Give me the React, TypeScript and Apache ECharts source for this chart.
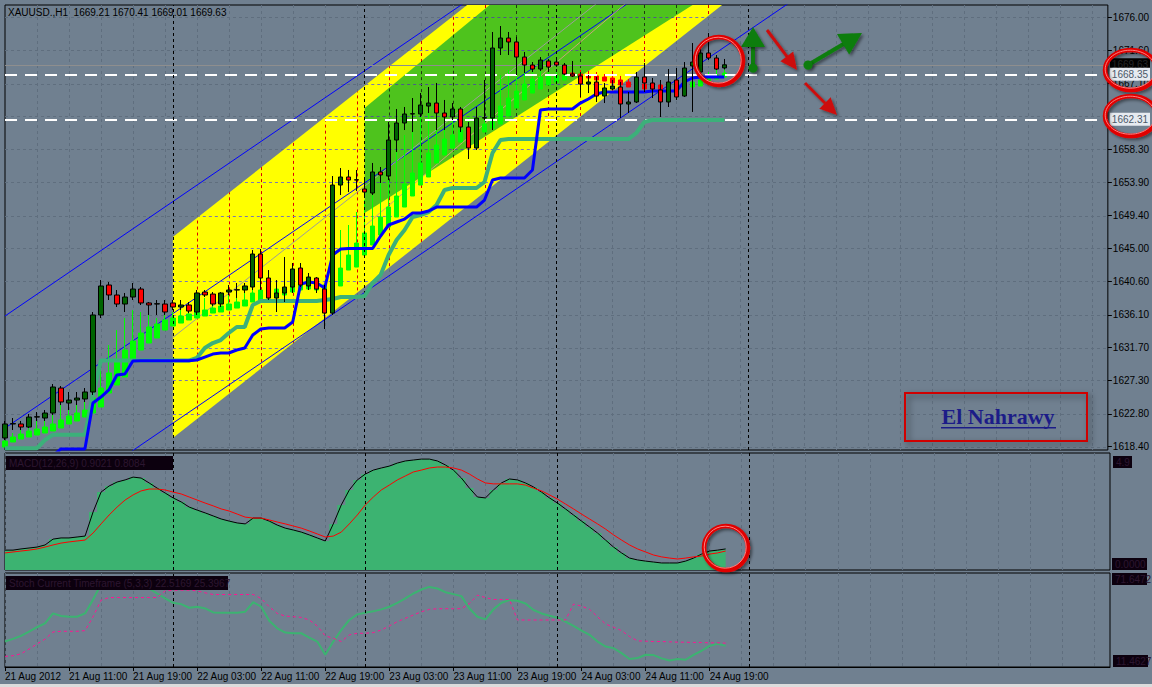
import React, { useEffect, useRef } from 'react';
import * as echarts from 'echarts';

type Pt = [number, number];

const BG = '#708090';
const GRID_DASH = '#5f6e7e';
const FONT = 'Liberation Sans';

// ---- time axis: hourly slots starting 21 Aug 2012 03:00 ----
const SLOT_COUNT = 139;
const categories: string[] = [];
for (let k = 0; k < SLOT_COUNT; k++) {
  const h = 3 + k;
  const day = 21 + Math.floor(h / 24);
  categories.push(`${day} Aug ${String(h % 24).padStart(2, '0')}:00`);
}
const FIRST_LABEL = '21 Aug 2012';
const LAST_BAR = 90;
const daySeparators = [21, 45, 69, 93];
const verticalGrid: number[] = [];
for (let k = 4; k < SLOT_COUNT; k += 4) verticalGrid.push(k);

// ---- price scale ----
const priceMin = 1617.96;
const priceMax = 1677.65;
const priceTicks = [1618.4, 1622.8, 1627.3, 1631.7, 1636.1, 1640.6, 1645.0, 1649.4, 1653.9, 1658.3, 1662.7, 1667.1, 1671.6, 1676.0];
const priceLabels = [1618.4, 1622.8, 1627.3, 1631.7, 1636.1, 1640.6, 1645.0, 1649.4, 1653.9, 1658.3, 1667.1, 1671.6, 1676.0];

// ---- XAUUSD H1 candles: [open, close, low, high] ----
const priceBars = [
  // 21 Aug
  [1619.57, 1621.45, 1619.30, 1621.85], [1621.45, 1621.50, 1620.64, 1622.25], [1621.45, 1621.04, 1620.64, 1621.85],
  [1621.04, 1622.38, 1620.91, 1622.79], [1622.38, 1622.42, 1621.85, 1623.05], [1622.25, 1622.92, 1621.85, 1623.32],
  [1622.92, 1626.41, 1622.65, 1626.81], [1626.27, 1624.40, 1623.99, 1626.54], [1624.26, 1624.66, 1623.32, 1625.74],
  [1624.66, 1624.93, 1623.99, 1625.74], [1624.80, 1625.74, 1624.40, 1626.27], [1625.74, 1636.07, 1625.34, 1636.47],
  [1636.07, 1639.96, 1635.66, 1640.76], [1640.09, 1638.75, 1638.08, 1640.49], [1638.75, 1637.54, 1637.14, 1639.42],
  [1637.54, 1638.48, 1636.47, 1639.02], [1638.48, 1639.55, 1638.08, 1640.36], [1639.55, 1637.68, 1637.41, 1639.82],
  [1637.68, 1637.41, 1636.07, 1637.81], [1637.54, 1637.58, 1636.07, 1638.08], [1637.54, 1636.47, 1636.07, 1638.08],
  // 22 Aug
  [1637.68, 1637.14, 1636.74, 1638.08], [1637.14, 1637.41, 1636.74, 1638.08], [1637.41, 1636.60, 1636.33, 1637.81],
  [1636.47, 1639.02, 1636.07, 1639.42], [1639.15, 1638.75, 1638.48, 1639.42], [1638.88, 1637.54, 1637.27, 1639.15],
  [1637.54, 1639.02, 1637.14, 1639.15], [1639.15, 1639.42, 1638.75, 1640.09], [1639.42, 1639.46, 1638.35, 1640.36],
  [1639.42, 1639.96, 1639.02, 1640.36], [1639.82, 1644.25, 1639.42, 1644.78], [1644.25, 1641.03, 1639.42, 1644.92],
  [1641.03, 1638.35, 1638.08, 1642.10], [1638.35, 1639.02, 1636.47, 1640.76], [1639.02, 1639.82, 1637.81, 1643.85],
  [1639.82, 1642.24, 1639.02, 1643.04], [1642.37, 1640.09, 1639.82, 1643.04], [1639.96, 1641.16, 1639.42, 1641.70],
  [1641.03, 1639.55, 1639.02, 1641.16], [1639.55, 1636.33, 1634.19, 1640.09], [1636.33, 1653.50, 1636.07, 1654.71],
  [1653.50, 1654.58, 1652.16, 1655.78], [1654.58, 1654.17, 1652.56, 1655.52], [1654.17, 1654.21, 1652.70, 1655.52],
  // 23 Aug
  [1652.97, 1652.56, 1652.16, 1654.17], [1652.43, 1655.25, 1652.16, 1656.46], [1655.25, 1654.85, 1653.77, 1655.92],
  [1654.71, 1659.54, 1654.17, 1661.96], [1659.54, 1661.82, 1657.93, 1663.70], [1661.82, 1663.03, 1660.88, 1663.97],
  [1663.03, 1663.07, 1660.61, 1665.17], [1663.03, 1664.24, 1662.63, 1665.84], [1664.10, 1664.50, 1663.16, 1666.65],
  [1664.50, 1663.16, 1660.88, 1667.19], [1663.16, 1662.63, 1660.88, 1664.91], [1662.63, 1663.70, 1662.22, 1664.50],
  [1663.70, 1661.28, 1660.61, 1663.97], [1661.28, 1658.47, 1656.99, 1661.96], [1658.47, 1662.49, 1658.20, 1663.97],
  [1662.49, 1662.53, 1662.22, 1667.59], [1662.49, 1671.88, 1660.88, 1674.03], [1671.88, 1673.22, 1670.94, 1674.83],
  [1673.22, 1672.69, 1670.94, 1674.03], [1672.69, 1670.67, 1668.26, 1673.36], [1670.67, 1669.60, 1668.53, 1671.35],
  [1669.60, 1669.06, 1668.66, 1670.00], [1669.06, 1670.27, 1668.80, 1670.67], [1670.14, 1669.33, 1668.66, 1670.41],
  // 24 Aug
  [1670.00, 1669.60, 1669.33, 1670.41], [1669.60, 1668.39, 1668.26, 1669.87], [1668.39, 1668.13, 1668.00, 1670.14],
  [1668.13, 1667.05, 1665.31, 1668.66], [1667.05, 1667.32, 1665.84, 1668.26], [1667.32, 1665.44, 1664.64, 1667.99],
  [1665.44, 1666.52, 1664.50, 1667.19], [1666.38, 1666.78, 1666.25, 1667.59], [1666.65, 1664.37, 1662.49, 1667.32],
  [1664.37, 1664.64, 1663.16, 1665.98], [1664.64, 1667.99, 1664.50, 1668.66], [1667.99, 1667.19, 1665.98, 1669.87],
  [1667.19, 1666.38, 1665.17, 1667.86], [1666.25, 1664.64, 1662.63, 1667.59], [1664.64, 1667.32, 1663.97, 1669.06],
  [1667.59, 1665.31, 1664.91, 1669.20], [1665.44, 1669.20, 1665.31, 1670.00], [1669.47, 1670.00, 1663.30, 1672.55],
  [1668.66, 1671.21, 1668.66, 1672.55], [1671.21, 1670.54, 1670.27, 1673.89], [1670.54, 1669.06, 1668.93, 1670.94],
  [1669.21, 1669.63, 1669.01, 1670.41],
];

// ---- smoothed trend bars (lime up / red down): [open, close, low, high] ----
const trendBars = [
  [1618.36, 1619.16, 1618.36, 1619.57], [1619.03, 1619.70, 1619.03, 1620.24], [1619.43, 1620.10, 1619.43, 1620.91],
  [1619.70, 1620.51, 1619.70, 1621.45], [1619.97, 1620.77, 1619.97, 1621.98], [1620.24, 1621.04, 1620.24, 1622.25],
  [1620.51, 1621.45, 1620.51, 1623.05], [1620.91, 1621.98, 1620.91, 1623.99], [1621.45, 1622.52, 1621.45, 1624.66],
  [1621.85, 1622.92, 1621.85, 1624.93], [1622.38, 1623.32, 1622.38, 1625.34], [1622.92, 1624.93, 1622.92, 1627.35],
  [1623.73, 1626.27, 1623.73, 1630.03], [1625.60, 1628.29, 1625.60, 1632.04], [1626.68, 1629.76, 1626.68, 1634.05],
  [1627.75, 1631.37, 1627.75, 1635.66], [1630.16, 1632.58, 1630.16, 1636.74], [1631.37, 1633.65, 1631.37, 1636.47],
  [1632.31, 1634.46, 1632.31, 1636.07], [1632.98, 1634.86, 1632.98, 1635.66], [1634.05, 1635.40, 1634.05, 1636.07],
  [1634.59, 1635.66, 1634.59, 1636.47], [1634.99, 1635.93, 1634.99, 1636.74], [1635.40, 1636.20, 1635.40, 1637.00],
  [1635.66, 1636.47, 1635.66, 1638.08], [1635.93, 1636.74, 1635.93, 1638.35], [1636.33, 1637.00, 1636.33, 1638.35],
  [1636.47, 1637.27, 1636.47, 1638.61], [1636.74, 1637.54, 1636.74, 1639.15], [1637.00, 1637.81, 1637.00, 1639.15],
  [1637.27, 1638.08, 1637.27, 1639.42], [1637.81, 1639.02, 1637.81, 1641.43], [1638.08, 1639.42, 1638.08, 1642.10],
  [1638.35, 1639.42, 1638.35, 1640.49], [1638.48, 1639.55, 1638.48, 1640.09], [1638.75, 1639.69, 1638.75, 1640.76],
  [1639.15, 1639.96, 1639.15, 1641.43], [1639.42, 1640.22, 1639.42, 1641.43], [1639.55, 1640.36, 1639.55, 1640.76],
  [1639.42, 1640.22, 1639.42, 1640.49], [1639.15, 1640.09, 1639.15, 1640.22], [1639.42, 1641.03, 1639.42, 1646.13],
  [1639.96, 1642.37, 1639.96, 1647.47], [1642.10, 1644.11, 1642.10, 1648.14], [1642.50, 1645.72, 1642.50, 1649.88],
  [1644.11, 1647.07, 1644.11, 1651.49], [1645.46, 1648.00, 1645.46, 1653.50], [1646.80, 1649.21, 1646.80, 1654.85],
  [1647.87, 1650.55, 1647.87, 1656.86], [1649.21, 1652.03, 1649.21, 1658.47], [1650.55, 1653.64, 1650.55, 1660.21],
  [1652.03, 1655.11, 1652.03, 1661.55], [1653.50, 1656.46, 1653.50, 1662.89], [1654.58, 1657.80, 1654.58, 1663.83],
  [1656.46, 1658.87, 1656.46, 1664.24], [1657.53, 1659.67, 1657.53, 1663.56], [1658.47, 1660.21, 1658.47, 1663.30],
  [1659.27, 1660.88, 1659.27, 1663.56], [1659.54, 1660.75, 1659.54, 1662.49], [1660.35, 1661.42, 1660.35, 1663.30],
  [1660.61, 1661.69, 1660.61, 1664.24], [1661.15, 1663.30, 1661.15, 1667.59], [1661.69, 1664.10, 1661.69, 1668.26],
  [1662.76, 1665.17, 1662.76, 1668.93], [1663.83, 1666.11, 1663.83, 1669.20], [1664.91, 1667.05, 1664.91, 1669.60],
  [1665.84, 1667.72, 1665.84, 1669.60], [1666.38, 1667.99, 1666.38, 1669.47], [1666.92, 1668.13, 1666.92, 1669.20],
  [1667.32, 1668.13, 1667.32, 1668.93], [1667.59, 1668.26, 1667.59, 1668.66], [1668.53, 1668.13, 1668.13, 1668.93],
  [1668.39, 1667.99, 1667.99, 1668.93], [1668.26, 1667.86, 1667.86, 1668.80], [1668.13, 1667.59, 1667.59, 1668.66],
  [1667.99, 1667.45, 1667.45, 1668.39], [1667.86, 1667.19, 1667.19, 1668.26], [1667.59, 1666.92, 1666.92, 1668.13],
  [1667.32, 1666.65, 1666.65, 1667.72], [1667.19, 1666.52, 1666.52, 1667.32], [1667.05, 1666.38, 1666.38, 1667.32],
  [1666.92, 1666.38, 1666.38, 1667.19], [1666.92, 1666.25, 1666.25, 1667.05], [1666.38, 1667.05, 1666.38, 1667.32],
  [1666.52, 1667.05, 1666.52, 1667.32], [1666.52, 1667.19, 1666.52, 1667.59], [1666.65, 1667.32, 1666.65, 1667.86],
  [1666.78, 1667.59, 1666.78, 1668.13], [1667.19, 1667.86, 1667.19, 1668.66], [1667.72, 1668.26, 1667.72, 1668.93],
  [1667.99, 1668.53, 1667.99, 1669.20],
];

// ---- stepped trailing lines ----
const blueTrail = [
  1617.2, 1617.2, 1617.2, 1617.2, 1617.2, 1617.2, 1617.2, 1618.1, 1618.1, 1618.1, 1618.1,
  1624.26, 1625.06, 1626.01, 1628.02, 1628.15, 1629.89,
  1629.93, 1629.93, 1629.93, 1629.93, 1629.93, 1629.93, 1629.93,
  1630.03, 1630.43, 1630.83, 1630.97, 1630.97, 1631.37, 1631.64, 1633.38, 1634.19,
  1634.32, 1634.32, 1634.32,
  1635.13, 1640.22, 1640.49, 1640.36, 1639.69, 1644.11, 1644.92,
  1644.99, 1644.99, 1644.99, 1644.99,
  1646.66, 1648.14, 1648.54, 1648.94, 1649.75, 1649.75, 1650.02, 1650.55,
  1650.55, 1650.55, 1650.55, 1650.55, 1650.55,
  1651.49, 1654.17, 1654.44, 1654.44, 1654.44, 1654.44, 1655.52, 1663.56,
  1663.70, 1663.70, 1663.70, 1663.70,
  1664.50, 1665.04, 1665.71, 1665.98, 1665.98, 1665.98, 1665.98, 1665.98, 1665.98,
  1666.11, 1666.11, 1666.11, 1666.11, 1667.32, 1667.86, 1667.99, 1667.99, 1667.99, 1667.99,
];
const tealTrail = [
  1618.2, 1618.2, 1618.2, 1618.2, 1618.2, 1619.3, 1620.0, 1620.0, 1620.0, 1620.0, 1620.0, 1625.34,
  1629.96, 1629.96, 1629.96, 1629.96, 1629.96, 1629.96, 1629.96, 1629.96, 1629.96, 1629.96, 1629.96, 1629.96,
  1630.30, 1631.64, 1632.31, 1632.71, 1633.65, 1634.46, 1634.46, 1637.41,
  1637.94, 1637.94, 1637.94, 1637.94, 1637.94, 1637.94, 1637.94, 1637.94,
  1638.08, 1638.21, 1638.48, 1638.48, 1638.48,
  1638.61, 1640.36, 1641.43, 1644.11, 1646.13, 1647.47, 1649.21, 1649.48, 1649.88, 1650.82, 1652.83,
  1653.10, 1653.10, 1653.10, 1653.10, 1653.91, 1657.80, 1659.54,
  1659.67, 1659.67, 1659.67, 1659.67, 1659.67, 1659.67, 1659.67, 1659.67,
  1659.67, 1659.67, 1659.67, 1659.67, 1659.67, 1659.67, 1659.67, 1659.67,
  1660.48, 1661.96,
  1662.22, 1662.22, 1662.22, 1662.22, 1662.22, 1662.22, 1662.22, 1662.22, 1662.22, 1662.22,
];

// ---- drawn objects: [bar index, price] anchors ----
const yellowUpper = [[21, 1646.53], [110, 1721.74]];
const yellowLower = [[21, 1619.57], [110, 1694.78]];
const greenUpper = [[45, 1663.83], [110, 1721.29]];
const greenLower = [[45, 1649.74], [110, 1693.94]];
const channelUpper = [[0, 1635.93], [138, 1736.81]];
const channelMiddle = [[0, 1620.9], [138, 1721.78]];
const channelLower = [[0, 1606.2], [138, 1707.08]];
const regressionMid = [[21, 1633.05], [110, 1708.26]];
const innerLine = [[45, 1648.0], [80, 1680.0]];

const bidPrice = 1669.63;
const levelHigh = 1668.35;
const levelLow = 1662.31;

// ---- oscillator panel ----
const macdMain = [
  0.85, 0.85, 0.9, 0.94, 0.98, 1.07, 1.32, 1.37, 1.37, 1.41,
  1.45, 2.48, 3.33, 3.59, 3.76, 3.85, 3.97, 3.93, 3.72, 3.5,
  3.29, 3.08, 2.91, 2.69, 2.56, 2.44, 2.31, 2.18, 2.09, 2.01,
  1.97, 2.22, 2.22, 2.09, 1.92, 1.79, 1.71, 1.62, 1.5, 1.37,
  1.24, 1.97, 2.78, 3.42, 3.85, 4.1, 4.27, 4.36, 4.44, 4.57,
  4.66, 4.7, 4.74, 4.74, 4.66, 4.49, 4.27, 3.93, 3.5, 3.12,
  3.08, 3.42, 3.72, 3.89, 3.85, 3.72, 3.55, 3.33, 3.08, 2.86,
  2.61, 2.35, 2.09, 1.84, 1.58, 1.28, 0.98, 0.73, 0.51, 0.43,
  0.38, 0.34, 0.3, 0.3, 0.3, 0.38, 0.51, 0.68, 0.81, 0.85,
  0.9,
];
const macdSignal = [
  0.73, 0.77, 0.81, 0.85, 0.9, 0.98, 1.07, 1.15, 1.2, 1.24,
  1.28, 1.58, 1.97, 2.35, 2.69, 2.99, 3.21, 3.38, 3.46, 3.46,
  3.42, 3.33, 3.25, 3.12, 2.99, 2.86, 2.74, 2.61, 2.52, 2.39,
  2.26, 2.22, 2.22, 2.14, 2.05, 1.97, 1.88, 1.79, 1.67, 1.54,
  1.41, 1.45, 1.62, 1.97, 2.35, 2.78, 3.12, 3.42, 3.63, 3.85,
  4.02, 4.19, 4.27, 4.36, 4.4, 4.4, 4.36, 4.27, 4.1, 3.89,
  3.72, 3.68, 3.68, 3.68, 3.68, 3.63, 3.5, 3.38, 3.21, 3.03,
  2.82, 2.61, 2.39, 2.18, 1.97, 1.75, 1.5, 1.28, 1.07, 0.9,
  0.77, 0.64, 0.56, 0.51, 0.47, 0.51, 0.56, 0.6, 0.68, 0.73,
  0.81,
];

// ---- stochastic panel ----
const stochMain = [
  27.1, 29.9, 33.1, 37.7, 42.3, 46.5, 57.0, 54.2, 53.5, 53.5,
  57.0, 71.8, 88.0, 93.0, 94.0, 94.0, 93.3, 88.0, 83.5, 78.2,
  72.9, 68.3, 66.9, 63.0, 64.1, 62.3, 58.1, 57.7, 57.7, 57.7,
  58.8, 69.0, 64.1, 49.3, 41.2, 36.6, 35.9, 35.9, 31.3, 27.1,
  13.0, 27.1, 39.4, 50.0, 56.0, 57.7, 59.2, 61.3, 64.1, 68.3,
  72.9, 78.2, 82.4, 85.2, 83.5, 79.6, 77.5, 75.4, 62.3, 53.5,
  50.7, 61.3, 68.3, 71.1, 70.4, 67.6, 60.6, 57.0, 54.6, 52.5,
  48.2, 43.7, 38.7, 34.2, 27.1, 21.8, 20.1, 14.8, 8.5, 9.5,
  13.0, 12.7, 9.2, 7.0, 8.5, 7.7, 13.0, 17.3, 22.5, 24.6,
  22.5,
];
const stochSignal = [
  11.3, 12.0, 14.1, 19.0, 24.6, 29.6, 37.3, 38.0, 38.0, 38.0,
  38.7, 53.5, 71.1, 73.9, 73.9, 73.9, 73.9, 73.9, 73.9, 73.9,
  81.0, 81.7, 81.7, 81.7, 81.0, 78.9, 77.1, 77.1, 77.1, 77.1,
  77.1, 77.1, 72.9, 64.1, 57.0, 54.2, 53.5, 52.8, 50.0, 43.7,
  33.1, 30.6, 27.1, 34.2, 35.9, 35.9, 36.6, 39.4, 43.7, 48.2,
  51.8, 55.3, 58.8, 61.3, 62.0, 62.0, 62.0, 62.0, 67.6, 76.4,
  73.9, 71.8, 71.8, 71.8, 50.0, 50.0, 50.0, 50.0, 50.0, 50.0,
  50.0, 66.9, 64.8, 61.3, 53.5, 45.8, 42.3, 38.7, 32.4, 27.8,
  27.5, 27.1, 27.1, 26.8, 26.4, 26.4, 26.1, 26.1, 25.7, 25.7,
  25.4,
];

const titleText = 'XAUUSD.,H1  1669.21 1670.41 1669.01 1669.63';
const macdTitle = 'MACD(12,26,9) 0.9021 0.8084';
const stochTitle = 'Stoch Current Timeframe (5,3,3) 22.5169 25.3967';
const signature = 'El Nahrawy';

// ---- geometry helpers ----
function clipPolygon(poly: Pt[], x0: number, y0: number, x1: number, y1: number): Pt[] {
  const planes: [(p: Pt) => boolean, (a: Pt, b: Pt) => Pt][] = [
    [(p) => p[0] >= x0, (a, b) => [x0, a[1] + ((x0 - a[0]) / (b[0] - a[0])) * (b[1] - a[1])]],
    [(p) => p[0] <= x1, (a, b) => [x1, a[1] + ((x1 - a[0]) / (b[0] - a[0])) * (b[1] - a[1])]],
    [(p) => p[1] >= y0, (a, b) => [a[0] + ((y0 - a[1]) / (b[1] - a[1])) * (b[0] - a[0]), y0]],
    [(p) => p[1] <= y1, (a, b) => [a[0] + ((y1 - a[1]) / (b[1] - a[1])) * (b[0] - a[0]), y1]],
  ];
  let out = poly;
  for (const [inside, cut] of planes) {
    const input = out;
    out = [];
    if (!input.length) break;
    for (let i = 0; i < input.length; i++) {
      const cur = input[i];
      const prev = input[(i + input.length - 1) % input.length];
      const cin = inside(cur);
      const pin = inside(prev);
      if (cin) {
        if (!pin) out.push(cut(prev, cur));
        out.push(cur);
      } else if (pin) out.push(cut(prev, cur));
    }
  }
  return out;
}

function spanAt(poly: Pt[], axis: 0 | 1, c: number): [number, number] | null {
  const o = 1 - axis;
  const hits: number[] = [];
  for (let i = 0; i < poly.length; i++) {
    const a = poly[i];
    const b = poly[(i + 1) % poly.length];
    if ((a[axis] - c) * (b[axis] - c) <= 0) {
      if (a[axis] === b[axis]) hits.push(a[o], b[o]);
      else hits.push(a[o] + ((c - a[axis]) / (b[axis] - a[axis])) * (b[o] - a[o]));
    }
  }
  if (hits.length < 2) return null;
  const lo = Math.min(...hits);
  const hi = Math.max(...hits);
  return hi - lo > 0.5 ? [lo, hi] : null;
}

function renderChannels(params: any, api: any) {
  const cs = params.coordSys;
  const x0 = cs.x, y0 = cs.y, x1 = cs.x + cs.width, y1 = cs.y + cs.height;
  const px = (p: number[]): Pt => api.coord(p) as Pt;
  const kids: any[] = [];
  const seg = (a: number, b: number, c: number, d: number, color: string, offset: number) => ({
    type: 'line',
    shape: { x1: a, y1: b, x2: c, y2: d },
    style: { stroke: color, lineWidth: 1, lineDash: [3, 3], lineDashOffset: offset },
  });
  const vx = verticalGrid.map((k) => Math.round(api.coord([k, priceMin])[0]) + 0.5);
  const hy = priceTicks.map((t) => Math.round(api.coord([0, t])[1]) + 0.5);
  vx.forEach((x) => kids.push(seg(x, y0, x, y1, GRID_DASH, 0)));
  hy.forEach((y) => kids.push(seg(x0, y, x1, y, GRID_DASH, 0)));
  const band = (upper: number[][], lower: number[][], fill: string, vCol: string, hCol: string) => {
    const poly = clipPolygon([px(upper[0]), px(upper[1]), px(lower[1]), px(lower[0])], x0, y0, x1, y1);
    if (poly.length < 3) return;
    kids.push({ type: 'polygon', shape: { points: poly }, style: { fill } });
    vx.forEach((x) => {
      const s = spanAt(poly, 0, x);
      if (s) kids.push(seg(x, s[0], x, s[1], vCol, (s[0] - y0) % 6));
    });
    hy.forEach((y) => {
      const s = spanAt(poly, 1, y);
      if (s) kids.push(seg(s[0], y, s[1], y, hCol, (s[0] - x0) % 6));
    });
  };
  band(yellowUpper, yellowLower, '#ffff00', '#dd0000', '#7a78b4');
  band(greenUpper, greenLower, '#4ec31d', '#1e3a10', '#4d5a8c');
  return { type: 'group', children: kids };
}

const shadow = { shadowBlur: 3, shadowColor: 'rgba(0,0,0,0.45)', shadowOffsetX: 2, shadowOffsetY: 2 };

// annotation arrow: thick shaft drawn as a quad, triangular head, optional tail dot
function arrow(x1: number, y1: number, x2: number, y2: number, color: string, w: number, hl: number, hw: number, dot: number) {
  const dx = x2 - x1, dy = y2 - y1;
  const len = Math.hypot(dx, dy);
  const ux = dx / len, uy = dy / len;
  const bx = x2 - ux * hl, by = y2 - uy * hl;
  const nx = -uy, ny = ux;
  const hwS = w / 2;
  const els: any[] = [
    {
      type: 'polygon', z: 100,
      shape: {
        points: [
          [x1 + nx * hwS, y1 + ny * hwS], [bx + ux + nx * hwS, by + uy + ny * hwS],
          [bx + ux - nx * hwS, by + uy - ny * hwS], [x1 - nx * hwS, y1 - ny * hwS],
        ],
      },
      style: { fill: color, ...shadow },
    },
    {
      type: 'polygon', z: 100,
      shape: { points: [[x2, y2], [bx + nx * hw, by + ny * hw], [bx - nx * hw, by - ny * hw]] },
      style: { fill: color, ...shadow },
    },
  ];
  if (dot) els.push({ type: 'circle', z: 100, shape: { cx: x1, cy: y1, r: dot }, style: { fill: color, ...shadow } });
  return els;
}

function ring(cx: number, cy: number, rx: number, ry: number) {
  return [
    { type: 'ellipse', z: 101, shape: { cx, cy, rx, ry }, style: { fill: 'none', stroke: '#e00000', lineWidth: 4.5, ...shadow } },
    { type: 'ellipse', z: 102, shape: { cx: cx - 0.8, cy: cy - 0.8, rx: rx - 1, ry: ry - 1 }, style: { fill: 'none', stroke: '#ff8080', lineWidth: 1 } },
  ];
}

function darkBox(x: number, y: number, w: number, h: number, text: string) {
  return [
    { type: 'rect', z: 90, shape: { x, y, width: w, height: h }, style: { fill: '#0c000e' } },
    {
      type: 'text', z: 91, x: x + 3, y: y + h / 2,
      style: { text, fill: '#2c1630', font: `10px ${FONT}`, verticalAlign: 'middle' },
    },
  ];
}

function buildOption() {
  const xAxes = [0, 1, 2].map((g) => ({
    type: 'category',
    gridIndex: g,
    data: categories,
    boundaryGap: false,
    axisLine: { show: g === 2, lineStyle: { color: '#000' } },
    axisTick: {
      show: g === 2,
      length: 4,
      interval: (i: number) => i % 8 === 0 && i <= LAST_BAR,
      lineStyle: { color: '#000' },
    },
    axisLabel: {
      show: g === 2,
      interval: (i: number) => i % 8 === 0 && i <= LAST_BAR,
      formatter: (v: string, i: number) => (i === 0 ? FIRST_LABEL : v),
      align: 'left',
      margin: 4,
      color: '#000',
      fontSize: 10,
      fontFamily: FONT,
    },
    splitLine: { show: g !== 0, interval: 3, lineStyle: { color: GRID_DASH, type: [3, 3], width: 1 } },
  }));

  const separator = (g: number) => ({
    type: 'line', xAxisIndex: g, yAxisIndex: g, data: [], z: 6,
    markLine: {
      silent: true, symbol: 'none', animation: false,
      label: { show: false },
      lineStyle: { color: '#000', type: [3, 3], width: 1 },
      data: daySeparators.map((i) => ({ xAxis: categories[i] })),
    },
  });

  const thin = (name: string, data: number[][], color: string) => ({
    name, type: 'line', xAxisIndex: 0, yAxisIndex: 0, data, z: 2,
    showSymbol: false, silent: true, lineStyle: { color, width: 1 },
  });

  const levelLabel = (bg: string, fg: string) => ({
    show: true, position: 'end', distance: 2, backgroundColor: bg, color: fg,
    fontSize: 10, fontFamily: FONT, padding: [2, 2, 1, 2],
  });

  return {
    animation: false,
    backgroundColor: BG,
    textStyle: { fontFamily: FONT },
    grid: [
      { left: 5, right: 42, top: 5, height: 445, show: true, borderColor: '#000', borderWidth: 1 },
      { left: 5, right: 42, top: 453, height: 117, show: true, borderColor: '#000', borderWidth: 1 },
      { left: 5, right: 42, top: 573, height: 94, show: true, borderColor: '#000', borderWidth: 1 },
    ],
    xAxis: xAxes,
    yAxis: [
      {
        type: 'value', gridIndex: 0, position: 'right', min: priceMin, max: priceMax,
        axisLine: { show: false },
        axisTick: { show: true, length: 4, customValues: priceLabels, lineStyle: { color: '#000' } },
        axisLabel: {
          customValues: priceLabels, formatter: (v: number) => v.toFixed(2),
          color: '#000', fontSize: 10, fontFamily: FONT, margin: 5,
        },
        splitLine: { show: false },
      },
      { type: 'value', gridIndex: 1, min: 0, max: 5, show: false },
      { type: 'value', gridIndex: 2, min: 0, max: 100, show: false },
    ],
    graphic: {
      elements: [
        { type: 'rect', z: 80, shape: { x: 0, y: 684, width: 1152, height: 3 }, style: { fill: '#dcdcdc' } },
        { type: 'text', z: 90, x: 8, y: 7, style: { text: titleText, fill: '#000', font: `10px ${FONT}` } },
        ...darkBox(6, 456, 167, 14, macdTitle),
        ...darkBox(6, 576, 222, 14, stochTitle),
        ...darkBox(1113, 456, 19, 12, '4.9'),
        ...darkBox(1112, 558, 35, 12, '0.0000'),
        ...darkBox(1112, 573, 35, 12, '71.6472'),
        ...darkBox(1113, 655, 35, 12, '11.4627'),
        {
          type: 'rect', z: 95, shape: { x: 905, y: 393, width: 182, height: 48 },
          style: { fill: 'none', stroke: '#d00000', lineWidth: 2, shadowBlur: 6, shadowColor: 'rgba(0,0,0,0.5)', shadowOffsetX: 3, shadowOffsetY: 3 },
        },
        {
          type: 'text', z: 96, x: 998, y: 416,
          style: { text: signature, fill: '#1c1c88', font: `bold 22px "Liberation Serif"`, align: 'center', verticalAlign: 'middle' },
        },
        { type: 'rect', z: 96, shape: { x: 941, y: 427, width: 115, height: 1.5 }, style: { fill: '#1c1c88' } },
        ...arrow(753, 68, 753, 27, '#0b7d0b', 4, 20, 12, 4.5),
        ...arrow(808, 65, 862, 33, '#0b7d0b', 4, 22, 12, 4.5),
        ...arrow(767, 30, 797, 70, '#cc1010', 3, 17, 8, 0),
        ...arrow(805, 83, 837, 115, '#cc1010', 3, 17, 8, 0),
        ...ring(719, 61, 24, 24),
        ...ring(1131, 70, 26, 20),
        ...ring(1131, 116, 26, 20),
        ...ring(726, 548, 22, 22),
      ],
    },
    series: [
      {
        type: 'custom', name: 'channels', xAxisIndex: 0, yAxisIndex: 0, z: 1, silent: true,
        data: [[0, priceMin]], renderItem: renderChannels,
      },
      thin('channel upper', channelUpper, '#0000ff'),
      thin('channel middle', channelMiddle, '#0000ff'),
      thin('channel lower', channelLower, '#0000ff'),
      thin('regression', regressionMid, '#9c9c9c'),
      thin('inner', innerLine, '#c8a47a'),
      {
        type: 'line', name: 'levels', xAxisIndex: 0, yAxisIndex: 0, data: [], z: 3,
        markLine: {
          silent: true, symbol: 'none', animation: false,
          data: [
            { yAxis: bidPrice, lineStyle: { color: '#8e8e8e', type: 'solid', width: 1 }, label: levelLabel('#000000', '#262626') },
            { yAxis: levelHigh, lineStyle: { color: '#ffffff', type: [12, 8], width: 2 }, label: levelLabel('#e6eaf0', '#4a5868') },
            { yAxis: levelLow, lineStyle: { color: '#ffffff', type: [12, 8], width: 2 }, label: levelLabel('#e6eaf0', '#4a5868') },
          ],
        },
      },
      {
        type: 'candlestick', name: 'trend', xAxisIndex: 0, yAxisIndex: 0, data: trendBars, z: 4,
        barWidth: 5, silent: true,
        itemStyle: { color: '#00ff00', color0: '#ff0000', borderColor: '#00ff00', borderColor0: '#ff0000', borderWidth: 1 },
      },
      {
        type: 'line', name: 'teal trail', xAxisIndex: 0, yAxisIndex: 0, data: tealTrail, z: 5,
        showSymbol: false, silent: true, lineStyle: { color: '#3cb07a', width: 4 },
      },
      {
        type: 'line', name: 'blue trail', xAxisIndex: 0, yAxisIndex: 0, data: blueTrail, z: 5,
        showSymbol: false, silent: true, lineStyle: { color: '#0000ff', width: 3 },
      },
      separator(0),
      separator(1),
      separator(2),
      {
        type: 'candlestick', name: 'XAUUSD', xAxisIndex: 0, yAxisIndex: 0, data: priceBars, z: 7,
        barWidth: 5, silent: true,
        itemStyle: { color: '#006400', color0: '#ff0000', borderColor: '#000000', borderColor0: '#000000', borderWidth: 1 },
      },
      {
        type: 'line', name: 'macd hist', xAxisIndex: 1, yAxisIndex: 1, data: macdMain, step: 'middle', z: 2,
        showSymbol: false, silent: true, lineStyle: { width: 0, opacity: 0 }, areaStyle: { color: '#3cb371', opacity: 1 },
      },
      {
        type: 'line', name: 'macd', xAxisIndex: 1, yAxisIndex: 1, data: macdMain, z: 3,
        showSymbol: false, silent: true, lineStyle: { color: '#000000', width: 1 },
      },
      {
        type: 'line', name: 'signal', xAxisIndex: 1, yAxisIndex: 1, data: macdSignal, z: 3,
        showSymbol: false, silent: true, lineStyle: { color: '#ff0000', width: 1 },
      },
      {
        type: 'line', name: 'stoch main', xAxisIndex: 2, yAxisIndex: 2, data: stochMain, z: 3,
        showSymbol: false, silent: true, lineStyle: { color: '#3cb371', width: 2 },
      },
      {
        type: 'line', name: 'stoch signal', xAxisIndex: 2, yAxisIndex: 2, data: stochSignal, z: 3,
        showSymbol: false, silent: true, lineStyle: { color: '#ff1493', width: 1, type: [3, 3] },
      },
    ],
  };
}

export default function App() {
  const ref = useRef<HTMLDivElement>(null);
  useEffect(() => {
    if (!ref.current) return;
    const chart = echarts.init(ref.current, null, { renderer: 'svg' });
    chart.setOption(buildOption() as any);
    return () => chart.dispose();
  }, []);
  return <div ref={ref} style={{ position: 'fixed', left: 0, top: 0, width: 1152, height: 687 }} />;
}
